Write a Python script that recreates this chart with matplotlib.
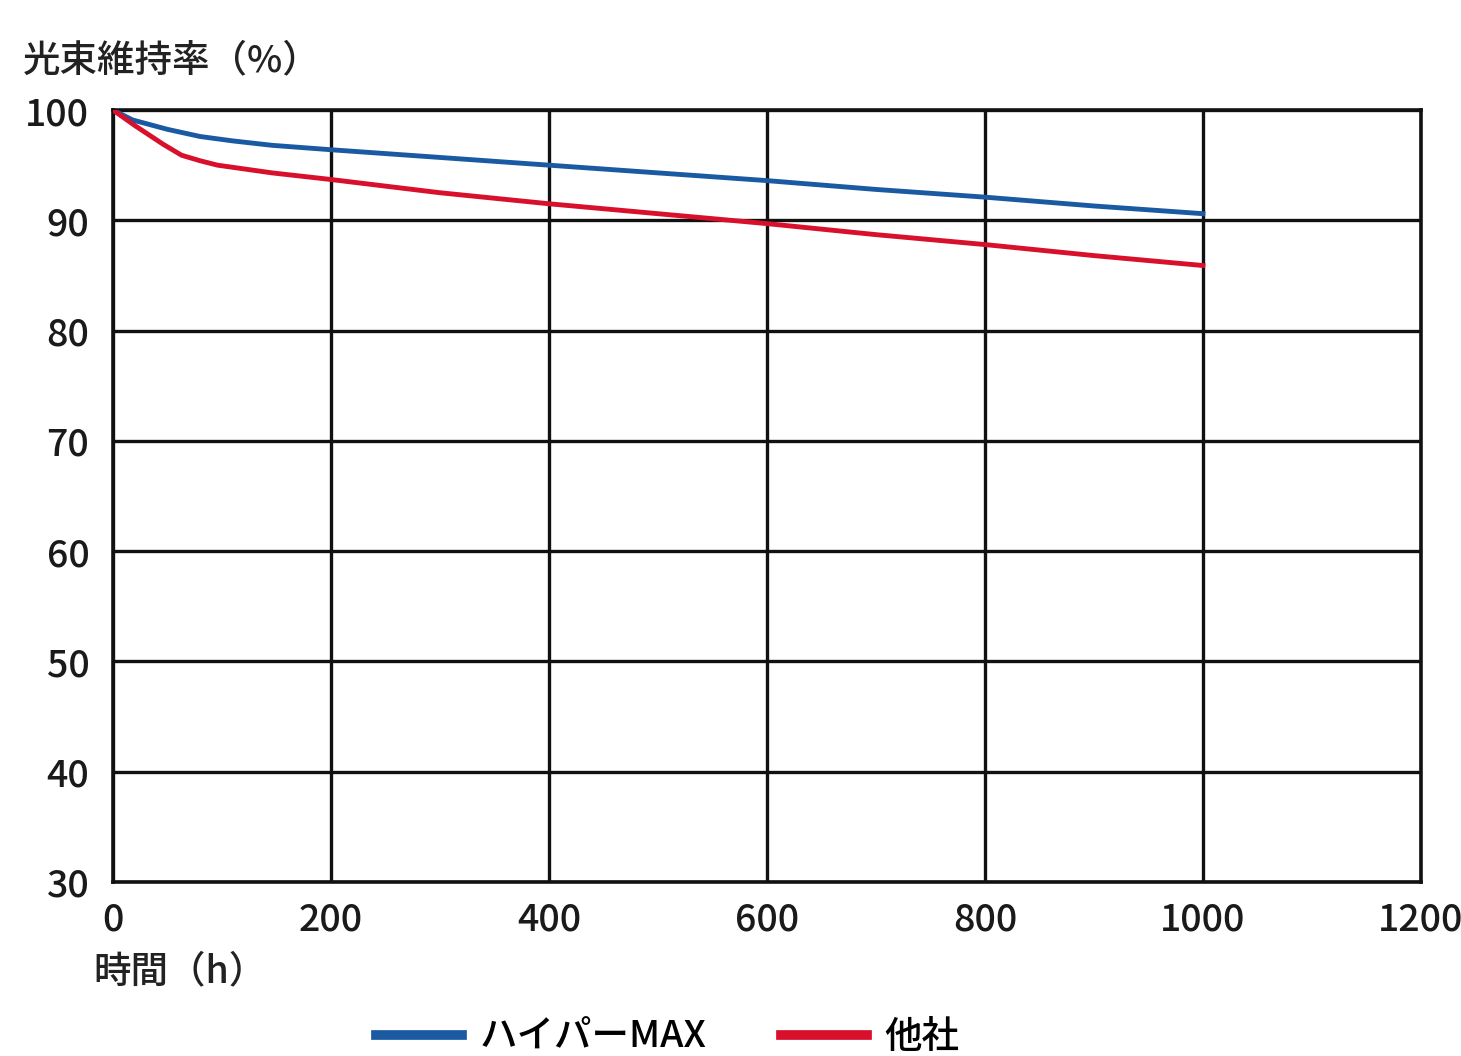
import matplotlib
matplotlib.use('Agg')
import matplotlib.pyplot as plt

plt.rcParams['font.family'] = ['Noto Sans CJK JP', 'DejaVu Sans']

# hours and lumen maintenance (%)
hours_max = [0, 18, 50, 80, 110, 146, 200, 300, 400, 500, 600, 700, 800, 900, 1000]
hyper_max = [100, 99.1, 98.25, 97.6, 97.2, 96.8, 96.4, 95.7, 95.0, 94.3, 93.6, 92.8, 92.1, 91.3, 90.6]
hours_other = [0, 20, 46, 63, 80, 96, 146, 200, 300, 400, 500, 600, 700, 800, 900, 1000]
other = [100, 98.6, 96.9, 95.9, 95.4, 95.0, 94.3, 93.7, 92.5, 91.5, 90.6, 89.7, 88.7, 87.8, 86.8, 85.9]

x_ticks = [0, 200, 400, 600, 800, 1000, 1200]
y_ticks = [30, 40, 50, 60, 70, 80, 90, 100]

fig = plt.figure(figsize=(14.61, 10.56), dpi=100)
ax = fig.add_axes([0.0773, 0.1648, 0.8953, 0.731])

ax.plot(hours_max, hyper_max, color='#1a5aa3', lw=3.5, label='ハイパーMAX', zorder=3,
        solid_joinstyle='round')
ax.plot(hours_other, other, color='#d8102c', lw=3.5, label='他社', zorder=3,
        solid_joinstyle='round')

ax.set_xlim(0, 1200)
ax.set_ylim(30, 100)
ax.set_xticks(x_ticks)
ax.set_yticks(y_ticks)
ax.grid(True, color='#111111', lw=2.4)
for s in ax.spines.values():
    s.set_color('#111111')
    s.set_linewidth(2.6)
ax.tick_params(length=0, labelsize=27, colors='#1a1a1a')
ax.tick_params(axis='y', pad=17)
ax.tick_params(axis='x', pad=13)
for lab in ax.get_xticklabels() + ax.get_yticklabels():
    lab.set_fontweight('medium')

fig.text(0.016, 0.925, '光束維持率（%）', fontsize=27, fontweight='medium', color='#222222',
         ha='left', va='bottom')
fig.text(0.064, 0.062, '時間（h）', fontsize=27, fontweight='medium', color='#222222',
         ha='left', va='bottom')

leg = fig.legend(loc='center', bbox_to_anchor=(0.457, 0.018), ncol=2, frameon=False,
                 fontsize=27, handlelength=2.3, handletextpad=0.45, columnspacing=2.0,
                 prop={'size': 27, 'weight': 'medium'})
for h in leg.get_lines():
    h.set_linewidth(7)

fig.savefig('out.png', dpi=100)
